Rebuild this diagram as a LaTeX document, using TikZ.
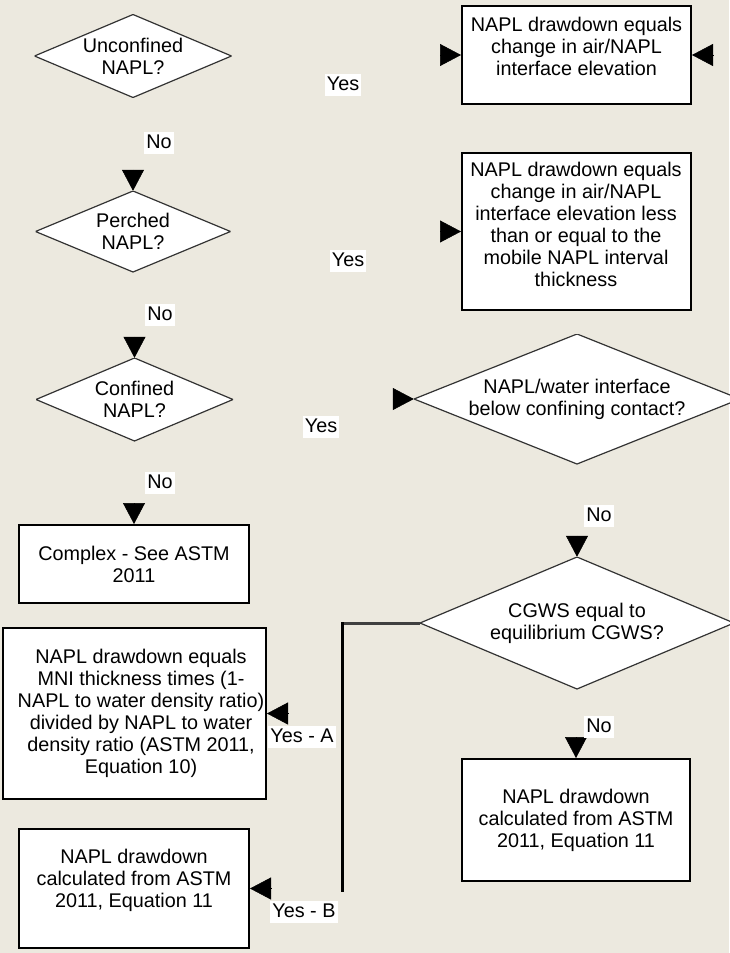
\documentclass[tikz,border=0pt]{standalone}
\usepackage{fontspec}
\setmainfont{Liberation Sans}
\usetikzlibrary{arrows.meta}
\definecolor{paper}{HTML}{ECE9DF}
\definecolor{rim}{HTML}{333333}
\definecolor{linkgray}{HTML}{404040}

\begin{document}
\begin{tikzpicture}[x=1pt, y=-1pt,
  every node/.style={font=\fontsize{19.8pt}{22pt}\selectfont, align=center, inner sep=0pt},
  decision/.style 2 args={rectangle, minimum width=#1, minimum height=#2,
    path picture={\filldraw[fill=white, draw=rim, line width=1.2pt]
      (path picture bounding box.west) -- (path picture bounding box.north) --
      (path picture bounding box.east) -- (path picture bounding box.south) -- cycle;}},
  outcome/.style 2 args={rectangle, draw=black, line width=2pt, fill=white,
    minimum width=#1, minimum height=#2},
  answer/.style={fill=white, inner xsep=2pt, inner ysep=2pt, text height=14pt, text depth=4pt},
  tip/.style={-{Triangle[length=21pt, width=22pt]}, black, line width=0.5pt},
  link/.style={line width=3pt},
]
% page
\fill[paper] (0,0) rectangle (729,953);
\useasboundingbox (0,0) rectangle (729,953);

% decisions
\node[decision={197}{83}] (unconf) at (133,56) {Unconfined\\NAPL?};
\node[decision={195}{81}] (perched) at (133,231.5) {Perched\\NAPL?};
\node[decision={197}{83}] (confined) at (134.5,399.5) {Confined\\NAPL?};
\node[decision={326}{130}] (iface) at (577,399) {NAPL/water interface\\below confining contact?};
\node[decision={314}{132}] (cgws) at (577,623) {CGWS equal to\\equilibrium CGWS?};

% outcomes
\node[outcome={229}{98}] (airnapl) at (576.5,55) {};
\node (airnapltext) at (576.5,46.5) {NAPL drawdown equals\\change in air/NAPL\\interface elevation};
\node[outcome={229}{157}] (perchres) at (576.5,231.5) {};
\node (perchrestext) at (576,224) {NAPL drawdown equals\\change in air/NAPL\\interface elevation less\\than or equal to the\\mobile NAPL interval\\thickness};
\node[outcome={230}{78}] (complex) at (134,564) {Complex - See ASTM\\2011};
\node[outcome={263}{171}] (eqten) at (134.5,713.5) {};
\node (eqtentext) at (141,713) {NAPL drawdown equals\\MNI thickness times (1-\\NAPL to water density ratio)\\divided by NAPL to water\\density ratio (ASTM 2011,\\Equation 10)};
\node[outcome={230}{119}] (eqleft) at (134,888.5) {};
\node (eqlefttext) at (134,880) {NAPL drawdown\\calculated from ASTM\\2011, Equation 11};
\node[outcome={228}{122}] (eqright) at (576,820) {NAPL drawdown\\calculated from ASTM\\2011, Equation 11};

% branch from the CGWS decision
\coordinate (split) at (342,623);
\coordinate (splitend) at (342,890);
\draw[link, linkgray] (cgws.west) -- (split);
\draw[link, black, line cap=rect] (split) -- (splitend);

% arrowheads
\draw[tip] ([xshift=-21pt]airnapl.west) -- (airnapl.west);
\draw[tip] ([xshift=21pt]airnapl.east) -- (airnapl.east);
\draw[tip] ([yshift=21pt]perched.north) -- (perched.north);
\draw[tip] ([xshift=-21pt]perchres.west) -- (perchres.west);
\draw[tip] ([yshift=21pt]confined.north) -- (confined.north);
\draw[tip] ([xshift=-21pt]iface.west) -- (iface.west);
\draw[tip] ([yshift=21pt]complex.north) -- (complex.north);
\draw[tip] ([yshift=21pt]cgws.north) -- (cgws.north);
\draw[tip] ([yshift=21pt]eqright.north) -- (eqright.north);
\draw[tip] ([xshift=21pt]eqten.east) -- (eqten.east);
\draw[tip] ([xshift=21pt]eqleft.east) -- (eqleft.east);

% branch labels
\node[answer] (yes1) at (343,85) {Yes};
\node[answer] (no1) at (159,143) {No};
\node[answer] (yes2) at (348,261) {Yes};
\node[answer] (no2) at (160,315) {No};
\node[answer] (yes3) at (321,427) {Yes};
\node[answer] (no3) at (160,483) {No};
\node[answer] (no4) at (599,516) {No};
\node[answer] (no5) at (599,727) {No};
\node[answer] (yesa) at (302,737) {Yes - A};
\node[answer] (yesb) at (304,912) {Yes - B};
\end{tikzpicture}
\end{document}
